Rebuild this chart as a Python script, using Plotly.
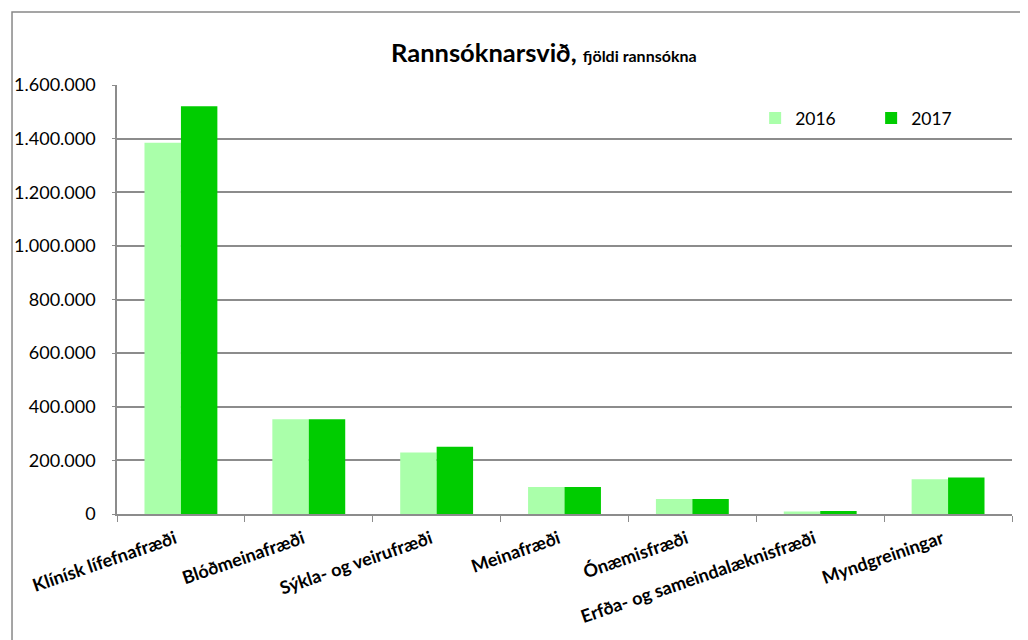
import plotly.graph_objects as go

# Rannsóknarsvið, fjöldi rannsókna
categories = ["Klínísk lífefnafræði", "Blóðmeinafræði", "Sýkla- og veirufræði",
              "Meinafræði", "Ónæmisfræði", "Erfða- og sameindalæknisfræði",
              "Myndgreiningar"]
values_2016 = [1385000, 353000, 229000, 101000, 56000, 9000, 130000]
values_2017 = [1521000, 353000, 251000, 101000, 56000, 11000, 136000]
y_ticks = [0, 200000, 400000, 600000, 800000, 1000000, 1200000, 1400000, 1600000]

font = "Lato, 'Open Sans', sans-serif"
grey = "#8c8c8c"

fig = go.Figure()
fig.add_trace(go.Bar(x=categories, y=values_2016, name="2016",
                     marker=dict(color="#AAFFAA", line=dict(width=0))))
fig.add_trace(go.Bar(x=categories, y=values_2017, name="2017",
                     marker=dict(color="#00CC00", line=dict(width=0))))

fig.update_layout(
    width=1020, height=632,
    margin=dict(l=109, r=16, t=77, b=126),
    paper_bgcolor="white", plot_bgcolor="white",
    separators=",.",
    barmode="group", bargap=0.43, bargroupgap=0,
    font=dict(family=font, size=18, color="black"),
    showlegend=True,
    legend=dict(orientation="h", x=0.713, y=0.923, xanchor="left", yanchor="middle",
                font=dict(size=17.5), entrywidth=71, entrywidthmode="pixels",
                itemwidth=30, bgcolor="rgba(0,0,0,0)"),
    annotations=[dict(
        text="<b>Rannsóknarsvið, <span style='font-size:16px'>fjöldi rannsókna</span></b>",
        xref="paper", yref="paper", x=0.477, y=1.077, xanchor="center", yanchor="middle",
        showarrow=False, font=dict(size=25.5, family=font))],
    shapes=[dict(type="rect", xref="paper", yref="paper",
                 x0=-0.1173, x1=1.0168, y0=-0.35, y1=1.170,
                 line=dict(color="#888888", width=1.5))],
)

fig.update_xaxes(
    automargin=False,
    showline=True, linecolor=grey, linewidth=1.5,
    ticks="outside", tickson="boundaries", ticklen=6, tickcolor=grey,
    tickangle=-19, tickfont=dict(size=18, family=font),
    ticklabelstandoff=6, ticklabelshift=-6,
    showgrid=False,
    tickvals=categories, ticktext=["<b>" + c + "</b>" for c in categories],
)

fig.update_yaxes(
    automargin=False,
    range=[0, 1600000], tickvals=y_ticks, tickformat=",d",
    showgrid=True, gridcolor=grey, gridwidth=1.5,
    showline=True, linecolor=grey, linewidth=1.5,
    ticks="outside", ticklen=3, tickcolor=grey, ticklabelstandoff=13,
    zeroline=False, tickfont=dict(size=18, family=font),
)

fig.write_html("out.html")
